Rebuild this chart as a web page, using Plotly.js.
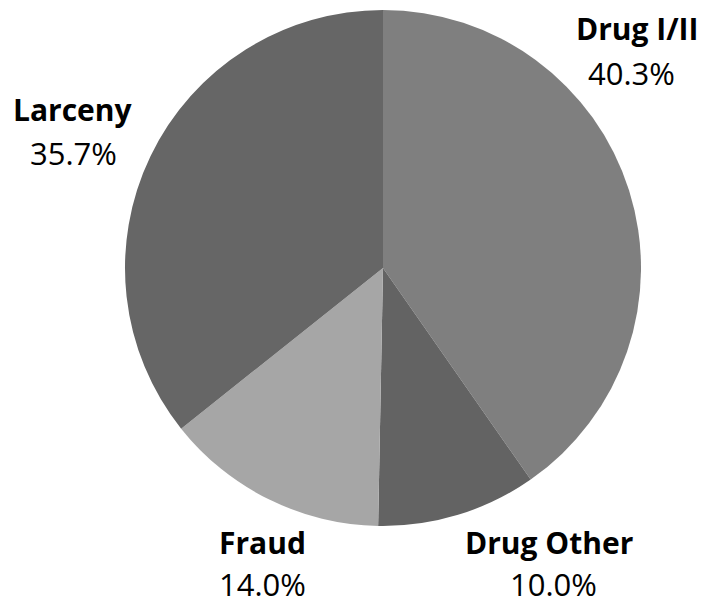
<!DOCTYPE html>
<html>
<head>
<meta charset="utf-8">
<script src="https://cdn.plot.ly/plotly-3.0.1.min.js"></script>
<style>html,body{margin:0;padding:0;background:#fff;}#chart{width:707px;height:605px;}</style>
</head>
<body>
<div id="chart"></div>
<script>
const categories = ["Drug I/II", "Drug Other", "Fraud", "Larceny"];
const shares = [40.3, 10.0, 14.0, 35.7];
const sliceColors = ["#7f7f7f", "#636363", "#a6a6a6", "#666666"];
// label anchor positions in pixels (name line, percent line)
const labelPos = [
  {x: 637, y1: 28, x2: 631, y2: 73},
  {x: 549, y1: 542, x2: 553, y2: 584},
  {x: 262, y1: 542, x2: 262, y2: 584},
  {x: 73, y1: 109, x2: 73, y2: 153}
];
const W = 707, H = 605;
const font = "'Open Sans', sans-serif";
const annotations = [];
categories.forEach((c, i) => {
  const p = labelPos[i];
  annotations.push({text: "<b>" + c + "</b>", x: p.x / W, y: 1 - p.y1 / H, xref: "paper", yref: "paper",
    xanchor: "center", yanchor: "middle", showarrow: false, font: {family: font, size: 30, color: "#000"}});
  annotations.push({text: shares[i].toFixed(1) + "%", x: p.x2 / W, y: 1 - p.y2 / H, xref: "paper", yref: "paper",
    xanchor: "center", yanchor: "middle", showarrow: false, font: {family: font, size: 31, color: "#000"}});
});
const cx = 383, cy = 268, r = 258;
const data = [{
  type: "pie",
  labels: categories,
  values: shares,
  sort: false,
  direction: "clockwise",
  rotation: 0,
  marker: {colors: sliceColors, line: {width: 0}},
  textinfo: "none",
  hoverinfo: "none",
  domain: {x: [(cx - r) / W, (cx + r) / W], y: [(H - cy - r) / H, (H - cy + r) / H]}
}];
const layout = {
  width: W, height: H,
  margin: {l: 0, r: 0, t: 0, b: 0},
  showlegend: false,
  paper_bgcolor: "#fff",
  annotations: annotations
};
Plotly.newPlot("chart", data, layout, {displayModeBar: false, staticPlot: true});
</script>
</body>
</html>
